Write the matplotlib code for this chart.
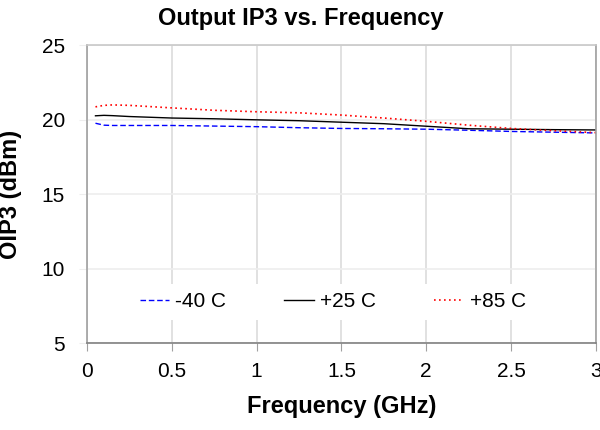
import matplotlib
matplotlib.use("Agg")
import matplotlib.pyplot as plt

plt.rcParams["font.family"] = ["Liberation Sans", "DejaVu Sans"]

# --- data ---
freq_ghz = [0.05, 0.1, 0.15, 0.25, 0.5, 0.75, 1.0, 1.25, 1.5, 1.75, 2.0, 2.25, 2.5, 2.75, 3.0]
oip3_m40 = [19.75, 19.62, 19.60, 19.60, 19.60, 19.56, 19.52, 19.45, 19.40, 19.38, 19.35, 19.28, 19.20, 19.15, 19.10]
oip3_p25 = [20.25, 20.28, 20.26, 20.20, 20.10, 20.05, 19.98, 19.92, 19.82, 19.72, 19.55, 19.38, 19.35, 19.32, 19.30]
oip3_p85 = [20.85, 20.95, 20.98, 20.95, 20.78, 20.62, 20.52, 20.45, 20.30, 20.10, 19.88, 19.62, 19.40, 19.25, 19.12]
x_ticks = [0, 0.5, 1, 1.5, 2, 2.5, 3]
x_tick_labels = ["0", "0.5", "1", "1.5", "2", "2.5", "3"]
y_ticks = [5, 10, 15, 20, 25]

fig = plt.figure(figsize=(6, 4.3), dpi=100)
ax = fig.add_axes([0.145, 0.2023, 0.848, 0.693])

ax.plot(freq_ghz, oip3_m40, color="#0000ff", linestyle=(0, (4, 2)), linewidth=1.0, label="-40 C")
ax.plot(freq_ghz, oip3_p25, color="black", linestyle="-", linewidth=1.0, label="+25 C")
ax.plot(freq_ghz, oip3_p85, color="#ff0000", linestyle=(0, (1, 2)), linewidth=1.2, label="+85 C")

ax.set_xlim(0, 3)
ax.set_ylim(5, 25)
ax.set_xticks(x_ticks, labels=x_tick_labels)
ax.set_yticks(y_ticks)

ax.xaxis.grid(True, color="#dcdcdc", linewidth=1.2)
ax.yaxis.grid(True, color="#eeeeee", linewidth=1.2)
ax.set_axisbelow(True)

ax.spines["left"].set_color("#a0a0a0")
ax.spines["bottom"].set_color("#808080")
ax.spines["top"].set_color("#c8c8c8")
ax.spines["right"].set_color("#a0a0a0")
for s in ax.spines.values():
    s.set_linewidth(1.2)

ax.tick_params(axis="x", direction="out", length=6, color="#a0a0a0", labelsize=15, pad=8)
ax.tick_params(axis="y", direction="out", length=6, color="#eeeeee", labelsize=15, pad=10)

ax.set_xlabel("Frequency (GHz)", fontsize=17, fontweight="bold", labelpad=10)
ax.set_ylabel("OIP3 (dBm)", fontsize=17, fontweight="bold", labelpad=14)
fig.text(0.502, 0.957, "Output IP3 vs. Frequency", ha="center", va="center",
         fontsize=17, fontweight="bold")

leg = ax.legend(loc="center", bbox_to_anchor=(0.483, 0.138), ncol=3, fontsize=15,
                frameon=True, facecolor="white", edgecolor="white", framealpha=1,
                handlelength=1.4, handletextpad=0.3, columnspacing=2.8,
                borderpad=0.4)
leg.get_frame().set_linewidth(0)

fig.savefig("out.png", dpi=100)
